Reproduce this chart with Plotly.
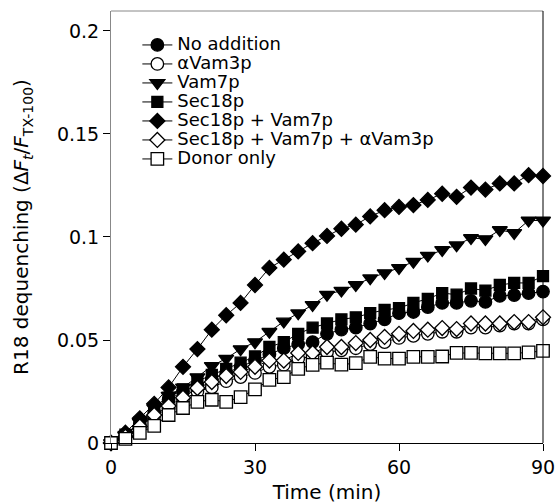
import plotly.graph_objects as go

time_min = [0, 3, 6, 9, 12, 15, 18, 21, 24, 27, 30, 33, 36, 39, 42, 45, 48, 51, 54, 57, 60,
            63, 66, 69, 72, 75, 78, 81, 84, 87, 90]

no_addition = [0, 0.004, 0.009, 0.015, 0.021, 0.025, 0.028, 0.031, 0.034, 0.037, 0.040,
               0.043, 0.046, 0.048, 0.049, 0.053, 0.055, 0.056, 0.058, 0.060, 0.063,
               0.0636, 0.066, 0.068, 0.068, 0.069, 0.0685, 0.0714, 0.0718, 0.0728, 0.0735]
a_vam3p = [0, 0.003, 0.008, 0.013, 0.017, 0.021, 0.025, 0.027, 0.030, 0.032, 0.034,
           0.037, 0.038, 0.041, 0.042, 0.044, 0.045, 0.046, 0.048, 0.049, 0.051,
           0.052, 0.053, 0.054, 0.054, 0.056, 0.056, 0.057, 0.058, 0.058, 0.060]
vam7p = [0, 0.004, 0.010, 0.017, 0.023, 0.027, 0.032, 0.0374, 0.041, 0.0456, 0.049,
         0.054, 0.059, 0.063, 0.067, 0.072, 0.074, 0.0767, 0.080, 0.0825, 0.085,
         0.088, 0.091, 0.0937, 0.096, 0.0995, 0.099, 0.1034, 0.102, 0.108, 0.108]
sec18p = [0, 0.004, 0.010, 0.016, 0.022, 0.026, 0.030, 0.033, 0.036, 0.039, 0.042,
          0.0466, 0.049, 0.053, 0.056, 0.058, 0.060, 0.061, 0.063, 0.0646, 0.0655,
          0.068, 0.070, 0.0728, 0.072, 0.075, 0.074, 0.0767, 0.0777, 0.0777, 0.081]
sec18p_vam7p = [0, 0.005, 0.012, 0.019, 0.027, 0.037, 0.0456, 0.055, 0.062, 0.068, 0.0767,
                0.085, 0.089, 0.093, 0.097, 0.1005, 0.104, 0.106, 0.110, 0.113, 0.1146,
                0.1155, 0.118, 0.121, 0.1195, 0.124, 0.123, 0.126, 0.126, 0.130, 0.1296]
sec18p_vam7p_avam3p = [0, 0.003, 0.008, 0.0136, 0.018, 0.022, 0.0267, 0.0296, 0.0325, 0.0345, 0.037,
                       0.040, 0.040, 0.0437, 0.0437, 0.0466, 0.0466, 0.0485, 0.050, 0.0515, 0.053,
                       0.0544, 0.055, 0.0558, 0.0553, 0.058, 0.058, 0.058, 0.0587, 0.0587, 0.061]
donor_only = [0, 0.002, 0.0049, 0.0083, 0.0136, 0.017, 0.020, 0.021, 0.020, 0.0223, 0.026,
              0.0306, 0.032, 0.036, 0.0379, 0.039, 0.038, 0.0388, 0.0418, 0.041, 0.041,
              0.0418, 0.0418, 0.042, 0.0437, 0.0437, 0.0435, 0.0435, 0.0435, 0.044, 0.0447]

series_names = ["No addition", "αVam3p", "Vam7p", "Sec18p", "Sec18p + Vam7p",
                "Sec18p + Vam7p + αVam3p", "Donor only"]
series_values = [no_addition, a_vam3p, vam7p, sec18p, sec18p_vam7p,
                 sec18p_vam7p_avam3p, donor_only]
styles = [
    dict(symbol="circle", size=12.5, color="black"),
    dict(symbol="circle", size=12.5, color="white"),
    dict(symbol="triangle-down", size=13, color="black"),
    dict(symbol="square", size=11, color="black"),
    dict(symbol="diamond", size=11.5, color="black"),
    dict(symbol="diamond", size=11.5, color="white"),
    dict(symbol="square", size=12.5, color="white"),
]

y_ticks = [0, 0.05, 0.1, 0.15, 0.2]
y_tick_labels = ["0", "0.05", "0.1", "0.15", "0.2"]
x_ticks = [0, 30, 60, 90]

FONT = "DejaVu Sans"

fig = go.Figure()
for name, vals, st in zip(series_names, series_values, styles):
    fig.add_trace(go.Scatter(
        x=time_min, y=vals, mode="lines+markers",
        name=f'<span style="font-size:18px">{name}</span>',
        line=dict(color="black", width=1),
        marker=dict(symbol=st["symbol"], size=st["size"], color=st["color"],
                    line=dict(color="black", width=1.3)),
        cliponaxis=False,
    ))

fig.update_layout(
    width=557, height=504,
    margin=dict(l=111, r=14, t=11, b=61),
    paper_bgcolor="white", plot_bgcolor="white",
    font=dict(family=FONT, color="black", size=19),
    showlegend=True,
    legend=dict(x=0.061, y=0.955, xanchor="left", yanchor="top",
                bgcolor="rgba(0,0,0,0)", font=dict(size=12, family=FONT),
                tracegroupgap=0),
    xaxis=dict(range=[0, 90], tickvals=x_ticks, ticks="outside", ticklen=7,
               tickcolor="black", showline=True, linecolor="black", linewidth=1,
               showgrid=False, zeroline=False, tickfont=dict(size=19), automargin=False,
               title=dict(text="Time (min)", font=dict(size=20), standoff=12)),
    yaxis=dict(range=[0, 0.2097], tickvals=y_ticks, ticktext=y_tick_labels,
               ticks="outside", ticklen=7, tickcolor="black", showline=True,
               linecolor="#888888", linewidth=1, showgrid=False, zeroline=False,
               tickfont=dict(size=19), automargin=False,
               title=dict(text="R18 dequenching (Δ<i>F</i><sub><i>t</i></sub>/<i>F</i><sub>TX-100</sub>)",
                          font=dict(size=20), standoff=22)),
    shapes=[
        dict(type="line", xref="paper", yref="paper", x0=0, x1=1, y0=1, y1=1,
             line=dict(color="#888888", width=1)),
        dict(type="line", xref="paper", yref="paper", x0=1, x1=1, y0=0, y1=1,
             line=dict(color="black", width=1)),
    ],
)

fig.write_html("out.html", config={"displayModeBar": False},
               post_script="document.body.style.margin='0';")
